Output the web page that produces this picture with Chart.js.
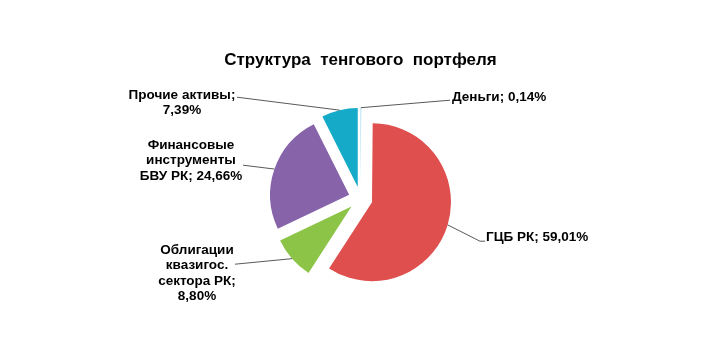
<!DOCTYPE html>
<html lang="ru">
<head>
<meta charset="utf-8">
<title>Структура тенгового портфеля</title>
<script src="https://cdn.jsdelivr.net/npm/chart.js@4.4.1/dist/chart.umd.min.js"></script>
<style>
    html, body { margin: 0; padding: 0; background: #fff; }
    #wrap { width: 719px; height: 352px; }
</style>
</head>
<body>
<div id="wrap"><canvas id="grafico" width="719" height="352"></canvas></div>
<script>
// Данные диаграммы
const categories = ['Деньги', 'ГЦБ РК', 'Облигации квазигос. сектора РК', 'Финансовые инструменты БВУ РК', 'Прочие активы'];
const shares = [0.14, 59.01, 8.80, 24.66, 7.39];
const colors = ['#8FD3E8', '#DF4F4E', '#8CC447', '#8764AA', '#14AAC8'];

// Подписи: точка выноски, положение текста (от центра круга), ширина переноса
const labelAnchors = [[89.5, -98.5], [119.5, 42.5], [-125.5, 65.5], [-117.5, -33.5], [-123.5, -101.5]];
const labelHooks = [0, 5, 0, 0, 0];
const labelText = [[91.5, -101, 'left'], [125.5, 39, 'left'], [-163.5, 51.5, 'center'], [-169.5, -53.5, 'center'], [-178.5, -103.5, 'center']];
const labelWrap = [200, 200, 85, 108, 120];

const EXPLODE = 12;     // вынос секторов, px
const LINE_H = 15.5;
const FONT = '"Liberation Sans", Arial, sans-serif';

function labelFor(i) {
    return categories[i] + '; ' + shares[i].toFixed(2).replace('.', ',') + '%';
}

function wrapText(ctx, text, maxWidth) {
    const words = text.split(' ');
    const lines = [];
    let line = '';
    words.forEach(w => {
        const test = line ? line + ' ' + w : w;
        if (line && ctx.measureText(test).width > maxWidth) {
            lines.push(line);
            line = w;
        } else {
            line = test;
        }
    });
    if (line) lines.push(line);
    return lines;
}

// Разнесённые секторы: каждый сектор сдвигается по своей биссектрисе
const explodePlugin = {
    id: 'explode',
    beforeDatasetDraw(chart, args) {
        const ctx = chart.ctx;
        args.meta.data.forEach(arc => {
            const mid = (arc.startAngle + arc.endAngle) / 2;
            ctx.save();
            ctx.translate(Math.cos(mid) * EXPLODE, Math.sin(mid) * EXPLODE);
            arc.draw(ctx);
            ctx.restore();
        });
        return false;
    }
};

// Подписи данных с линиями выноски
const labelsPlugin = {
    id: 'pieLabels',
    afterDatasetsDraw(chart) {
        const ctx = chart.ctx;
        const arcs = chart.getDatasetMeta(0).data;
        ctx.save();
        ctx.font = 'bold 13.5px ' + FONT;
        ctx.fillStyle = '#000';
        ctx.strokeStyle = '#595959';
        ctx.lineWidth = 1;
        ctx.textBaseline = 'middle';
        arcs.forEach((arc, i) => {
            const cx = arc.x, cy = arc.y;
            const mid = (arc.startAngle + arc.endAngle) / 2;
            const r = arc.outerRadius + EXPLODE;
            const [ax, ay] = labelAnchors[i];
            ctx.beginPath();
            ctx.moveTo(cx + Math.cos(mid) * r, cy + Math.sin(mid) * r);
            ctx.lineTo(cx + ax, cy + ay);
            if (labelHooks[i]) ctx.lineTo(cx + ax + labelHooks[i], cy + ay);
            ctx.stroke();

            const [tx, ty, align] = labelText[i];
            ctx.textAlign = align;
            wrapText(ctx, labelFor(i), labelWrap[i]).forEach((s, k) => {
                ctx.fillText(s, cx + tx, cy + ty + k * LINE_H);
            });
        });
        ctx.restore();
    }
};

const ctx = document.getElementById('grafico').getContext('2d');
const grafico = new Chart(ctx, {
    type: 'pie',
    data: {
        labels: categories,
        datasets: [{
            data: shares,
            backgroundColor: colors,
            borderWidth: 0
        }]
    },
    options: {
        responsive: false,
        animation: false,
        radius: 79,
        layout: { padding: { left: 2, right: 0, top: 0, bottom: 25 } },
        plugins: {
            legend: { display: false },
            tooltip: { enabled: false },
            title: {
                display: true,
                text: 'Структура  тенгового  портфеля',
                color: '#000',
                font: { family: FONT, size: 17, weight: 'bold' },
                padding: { top: 50, bottom: 0 }
            }
        }
    },
    plugins: [explodePlugin, labelsPlugin]
});
</script>
</body>
</html>
